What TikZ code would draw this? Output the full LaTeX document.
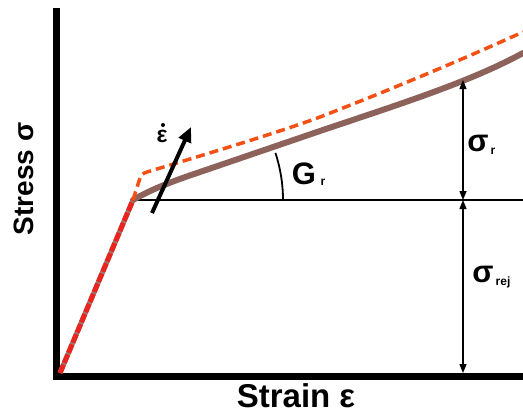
\documentclass[tikz,border=0pt]{standalone}
\usepackage{fontspec}
\setmainfont{Liberation Sans}
\usetikzlibrary{arrows.meta}
\definecolor{brownline}{RGB}{140,98,90}
\definecolor{dashor}{RGB}{245,80,20}
\definecolor{dashred}{RGB}{235,35,30}
\definecolor{greyline}{RGB}{150,120,110}
\tikzset{
  axis/.style={line width=7pt, line cap=butt},
  lbl/.style={font=\bfseries, inner sep=0pt},
  dimarrow/.style={line width=1.4pt, {Triangle[length=9pt,width=7pt]}-{Triangle[length=9pt,width=7pt]}},
}
\begin{document}
\begin{tikzpicture}[x=1pt,y=-1pt]
\useasboundingbox (0,0) rectangle (523,416);
% coordinates
\coordinate (O) at (60,373);
\coordinate (K) at (133,200);
\coordinate (H) at (523,200);
\coordinate (Ytop) at (56.5,8);
\coordinate (Ybot) at (56.5,380);
\coordinate (Xl) at (53,376.5);
\coordinate (Xr) at (523,376.5);
\coordinate (Ct) at (463,80);
\coordinate (Cm) at (463,200);
\coordinate (Cb) at (463,373);
\coordinate (At) at (191,127);
\coordinate (As) at (152,213);
\coordinate (Ar) at (283,200);
% axes
\draw[axis] (Ytop) -- (Ybot);
\draw[axis] (Xl) -- (Xr);
% horizontal reference
\draw[line width=1.8pt] (K) -- (H);
% brown curve
\draw[brownline, line width=6pt, line cap=round] (K) .. controls (150,190) and (170,182) .. (200,172)
  -- (320,131) .. controls (400,104) and (470,82) .. (523,53);
% lower elastic segment
\draw[greyline, line width=5pt] (O) -- (K);
\draw[dashred, line width=5pt, dash pattern=on 9pt off 2pt] (O) -- (K);
% dashed curve
\draw[dashor, line width=3.5pt, dash pattern=on 9pt off 5pt] (K) -- (140,178) .. controls (142,174) .. (147,172)
  .. controls (200,156) and (280,132) .. (320,117) .. controls (400,86) and (470,56) .. (523,32);
% angle arc
\draw[line width=1.8pt] (Ar) arc[start angle=0, end angle=-18.3, radius=150];
% strain-rate arrow
\draw[line width=4pt, -{Triangle[length=15pt,width=13pt]}] (As) -- (At);
% dimension arrows
\draw[dimarrow] (Ct) -- (Cm);
\draw[dimarrow] (Cm) -- (Cb);
% labels
\node[lbl, rotate=90, font=\bfseries\fontsize{28}{30}\selectfont] (ylab) at (24,179) {Stress σ};
\node[lbl, font=\bfseries\fontsize{33}{36}\selectfont] (xlab) at (296,396) {Strain ε};
\node[lbl, font=\bfseries\fontsize{23}{24}\selectfont] (eps) at (162,136) {ε};
\fill (163,125) circle (2pt);
\node[lbl, font=\bfseries\fontsize{31}{34}\selectfont] (G) at (304,174) {G};
\node[lbl, font=\bfseries\fontsize{12}{14}\selectfont] (Gs) at (323,182) {r};
\node[lbl, font=\bfseries\fontsize{31}{34}\selectfont] (sr) at (478,143) {σ};
\node[lbl, font=\bfseries\fontsize{12}{14}\selectfont] (srs) at (493,151) {r};
\node[lbl, font=\bfseries\fontsize{31}{34}\selectfont] (srej) at (483,274) {σ};
\node[lbl, font=\bfseries\fontsize{12}{14}\selectfont] (srejs) at (503,282) {rej};
\end{tikzpicture}
\end{document}
